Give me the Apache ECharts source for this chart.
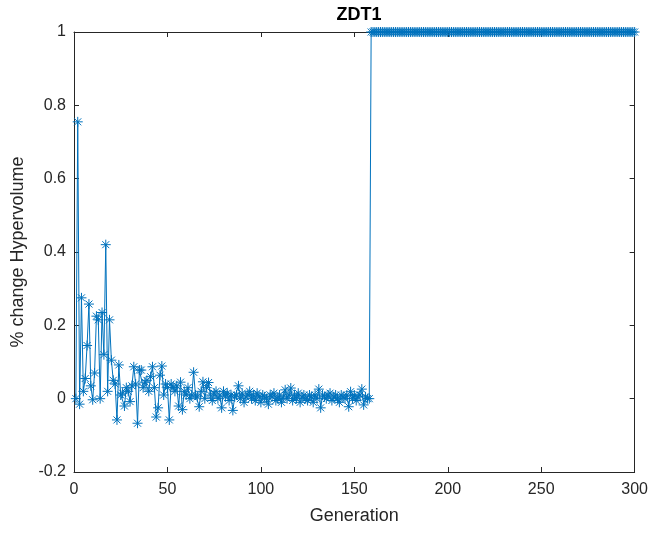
<!DOCTYPE html>
<html>
<head>
<meta charset="utf-8">
<script src="https://cdn.jsdelivr.net/npm/echarts@6/dist/echarts.min.js"></script>
<style>
html,body{margin:0;padding:0;background:#fff;}
#chart{width:651px;height:533px;}
</style>
</head>
<body>
<div id="chart"></div>
<script>
// Generation 1..300 (x = index + 1)
const changeHV = [
  0, 0.755, -0.015, 0.275, 0.02, 0.055, 0.145, 0.258, 0.035, -0.003,
  0.07, 0.225, 0.215, 0.0, 0.235, 0.12, 0.42, 0.02, 0.215, 0.105,
  0.05, 0.04, -0.058, 0.092, 0.01, 0.015, -0.02, 0.03, 0.02, -0.008,
  0.035, 0.087, 0.04, -0.067, 0.078, 0.078, 0.03, 0.045, 0.05, 0.02,
  0.06, 0.087, 0.03, -0.05, -0.025, 0.064, 0.089, 0.01, 0.04, 0.03,
  -0.058, 0.04, 0.03, 0.02, 0.035, -0.02, 0.045, -0.03, 0.02, 0.01,
  0.03, 0.0, 0.01, 0.072, 0.01, 0.005, -0.022, 0.02, 0.046, 0.0,
  0.03, 0.044, 0.01, -0.005, 0.015, 0.02, 0.0, 0.01, -0.025, 0.02,
  0.005, 0.015, -0.005, 0.01, -0.032, 0.005, 0.01, 0.035, 0.0, 0.015,
  -0.01, 0.005, 0.01, 0.02, 0.0, 0.01, -0.005, 0.015, 0.005, -0.01,
  0.01, 0.005, 0.0, -0.015, 0.01, 0.005, 0.015, -0.005, 0.0, 0.01,
  -0.01, 0.005, 0.024, 0.0, 0.01, 0.029, -0.005, 0.01, 0.0, 0.015,
  -0.01, 0.005, 0.01, 0.0, -0.005, 0.01, 0.005, -0.01, 0.01, 0.0,
  0.026, -0.025, 0.01, 0.005, 0.0, 0.01, 0.015, -0.005, 0.005, 0.01,
  0.0, -0.01, 0.01, 0.005, 0.0, 0.01, -0.022, 0.019, 0.0, 0.01,
  -0.005, 0.005, 0.01, 0.026, -0.017, 0.005, 0.0, 0.0,
  1, 1, 1, 1, 1, 1, 1, 1, 1, 1, 1, 1, 1, 1, 1, 1, 1, 1, 1, 1,
  1, 1, 1, 1, 1, 1, 1, 1, 1, 1, 1, 1, 1, 1, 1, 1, 1, 1, 1, 1,
  1, 1, 1, 1, 1, 1, 1, 1, 1, 1, 1, 1, 1, 1, 1, 1, 1, 1, 1, 1,
  1, 1, 1, 1, 1, 1, 1, 1, 1, 1, 1, 1, 1, 1, 1, 1, 1, 1, 1, 1,
  1, 1, 1, 1, 1, 1, 1, 1, 1, 1, 1, 1, 1, 1, 1, 1, 1, 1, 1, 1,
  1, 1, 1, 1, 1, 1, 1, 1, 1, 1, 1, 1, 1, 1, 1, 1, 1, 1, 1, 1,
  1, 1, 1, 1, 1, 1, 1, 1, 1, 1, 1, 1, 1, 1, 1, 1, 1, 1, 1, 1,
  1, 1
];
const titleText = 'ZDT1';
const xName = 'Generation';
const yName = '% change Hypervolume';

const seriesData = changeHV.map((v, i) => [i + 1, v]);

const AX = '#262626';
const FONT = 'Liberation Sans, Arial, Helvetica, sans-serif';
const BLUE = '#0072BD';

const chart = echarts.init(document.getElementById('chart'), null, {renderer: 'canvas'});

function xAx(pos, showLabel) {
  return {
    type: 'value', min: 0, max: 300, interval: 50, position: pos,
    axisLine: {show: true, onZero: false, lineStyle: {color: AX, width: 1}},
    axisTick: {show: true, inside: true, length: 5, lineStyle: {color: AX}},
    axisLabel: {show: showLabel, fontSize: 16, color: AX, fontFamily: FONT, margin: 10},
    splitLine: {show: false},
    name: showLabel ? xName : '',
    nameLocation: 'middle', nameGap: 35,
    nameTextStyle: {fontSize: 18, color: AX, fontFamily: FONT}
  };
}
function yAx(pos, showLabel) {
  return {
    type: 'value', min: -0.2, max: 1, interval: 0.2, position: pos,
    axisLine: {show: true, onZero: false, lineStyle: {color: AX, width: 1}},
    axisTick: {show: true, inside: true, length: 5, lineStyle: {color: AX}},
    axisLabel: {show: showLabel, fontSize: 16, color: AX, fontFamily: FONT, margin: 8,
      formatter: v => String(Math.round(v * 10) / 10)},
    splitLine: {show: false},
    name: showLabel ? yName : '',
    nameLocation: 'middle', nameGap: 43,
    nameTextStyle: {fontSize: 18, color: AX, fontFamily: FONT}
  };
}

chart.setOption({
  animation: false,
  backgroundColor: '#fff',
  title: {
    text: titleText, left: 354, top: 1, textAlign: 'center',
    textStyle: {fontSize: 18, fontWeight: 'bold', color: '#000', fontFamily: FONT}
  },
  grid: {left: 74, right: 16, top: 32, bottom: 61, containLabel: false},
  xAxis: [xAx('bottom', true), xAx('top', false)],
  yAxis: [yAx('left', true), yAx('right', false)],
  series: [{
    type: 'line',
    xAxisIndex: 0, yAxisIndex: 0,
    data: seriesData,
    symbol: 'path://M5,0L5,10M0,5L10,5M1.5,1.5L8.5,8.5M1.5,8.5L8.5,1.5',
    symbolSize: 10,
    showAllSymbol: true,
    lineStyle: {color: BLUE, width: 1},
    itemStyle: {color: BLUE, borderColor: BLUE, borderWidth: 1},
    emphasis: {disabled: true},
    silent: true
  }]
});
</script>
</body>
</html>
